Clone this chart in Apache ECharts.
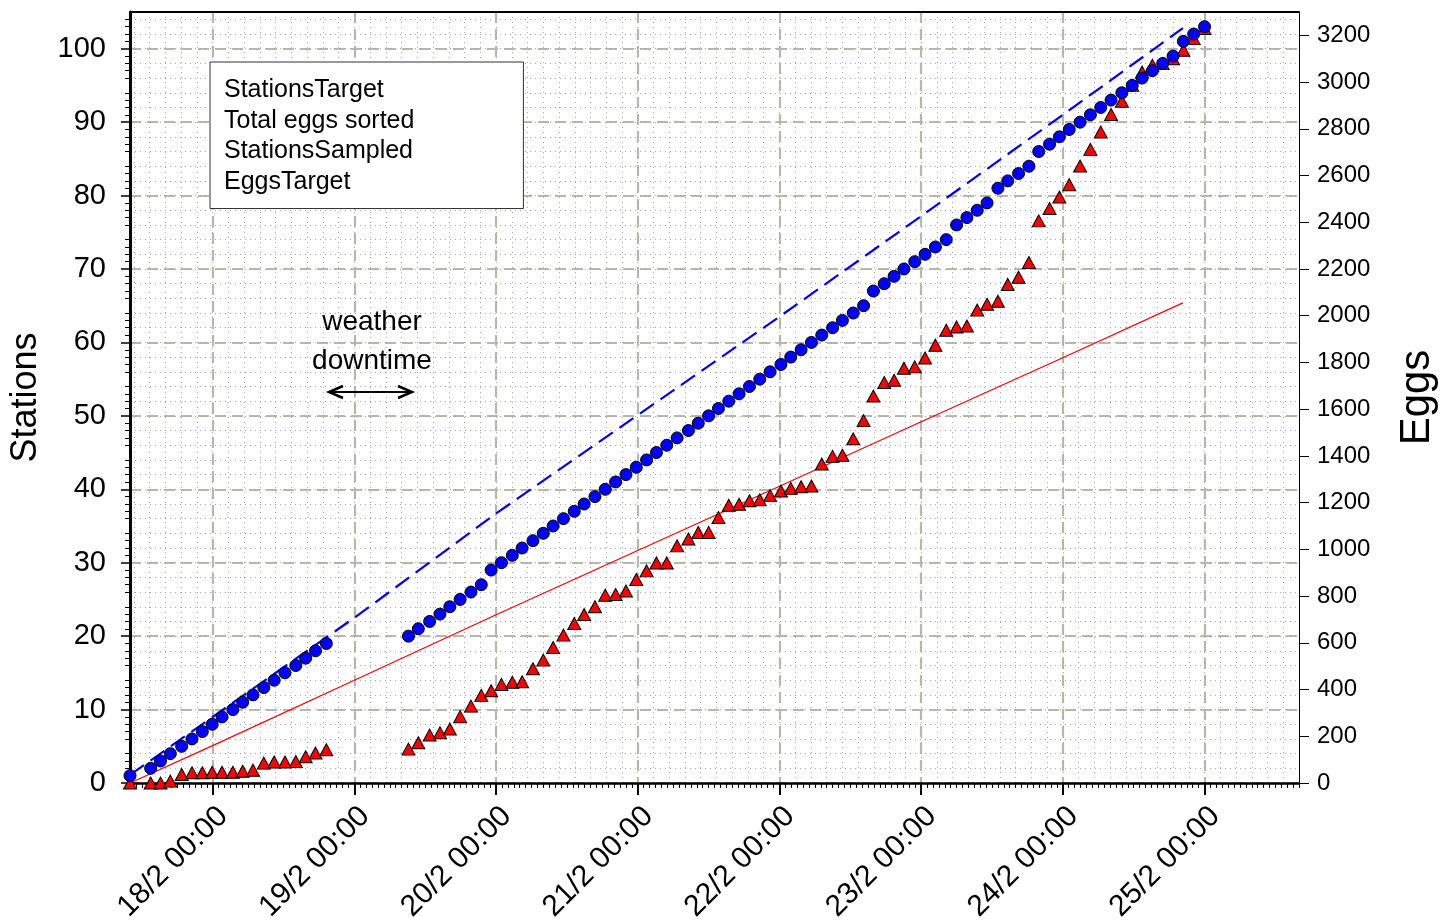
<!DOCTYPE html>
<html>
<head>
<meta charset="utf-8">
<script src="https://cdn.jsdelivr.net/npm/echarts@6/dist/echarts.min.js"></script>
<style>html,body{margin:0;padding:0;background:#fff}#c{width:1441px;height:922px}</style>
</head>
<body>
<div id="c"></div>
<script>
// ---------------- DATA ----------------
const sampleTimes = [
  '17/2 10:00','17/2 13:30','17/2 15:10','17/2 16:50','17/2 18:45','17/2 20:30','17/2 22:15','17/2 23:55',
  '18/2 01:35','18/2 03:25','18/2 05:05','18/2 06:50','18/2 08:40','18/2 10:25','18/2 12:15','18/2 14:05','18/2 15:45','18/2 17:25','18/2 19:15',
  '19/2 09:10','19/2 10:50','19/2 12:45','19/2 14:30','19/2 16:10','19/2 17:55','19/2 19:45','19/2 21:30','19/2 23:10',
  '20/2 00:55','20/2 02:45','20/2 04:25','20/2 06:15','20/2 08:00','20/2 09:40','20/2 11:25','20/2 13:15','20/2 14:55','20/2 16:45','20/2 18:30','20/2 20:15','20/2 22:00','20/2 23:45',
  '21/2 01:30','21/2 03:10','21/2 04:55','21/2 06:40','21/2 08:35','21/2 10:15','21/2 12:00','21/2 13:40','21/2 15:25','21/2 17:10','21/2 18:55','21/2 20:40','21/2 22:25',
  '22/2 00:15','22/2 01:55','22/2 03:40','22/2 05:25','22/2 07:10','22/2 09:00','22/2 10:40','22/2 12:30','22/2 14:15','22/2 15:55','22/2 17:45','22/2 19:25','22/2 21:05','22/2 22:55',
  '23/2 00:40','23/2 02:25','23/2 04:15','23/2 06:00','23/2 07:45','23/2 09:30','23/2 11:10','23/2 13:00','23/2 14:40','23/2 16:30','23/2 18:15','23/2 19:55','23/2 21:45','23/2 23:25',
  '24/2 01:05','24/2 02:55','24/2 04:40','24/2 06:25','24/2 08:10','24/2 10:00','24/2 11:45','24/2 13:25','24/2 15:10','24/2 16:55','24/2 18:40','24/2 20:25','24/2 22:10',
  '25/2 00:00'
];
const stationsSampled = [
  1,2,3,4,5,6,7,8,9,10,11,12,13,14,15,16,17,18,19,
  20,21,22,23,24,25,26,27,29,
  30,31,32,33,34,35,36,37,38,39,40,41,42,43,
  44,45,46,47,48,49,50,51,52,53,54,55,56,
  57,58,59,60,61,62,63,64,65,67,68,69,70,71,
  72,73,74,76,77,78,79,81,82,83,84,86,87,88,
  89,90,91,92,93,94,95,96,97,98,99,101,102,
  103
];
const eggsSorted = [
  0,0,0,8,36,44,44,46,46,46,50,55,85,90,90,92,112,128,142,
  145,172,205,215,231,284,329,375,395,
  422,431,433,489,526,580,633,683,721,754,804,807,822,871,
  908,942,942,1015,1044,1072,1072,1136,1189,1193,1208,1212,1230,
  1250,1261,1268,1271,1365,1398,1403,1473,1551,1656,1714,1724,1775,1781,
  1819,1874,1938,1952,1956,2024,2049,2062,2134,2165,2228,2406,2459,2508,
  2561,2641,2712,2786,2861,2918,2986,3043,3072,3079,3100,3136,3186,
  3229
];
const targetTimes = ['17/2 10:00','18/2 00:00','19/2 00:00','20/2 00:00','21/2 00:00','22/2 00:00','23/2 00:00','24/2 00:00','24/2 20:20'];
const stationsTarget = [1.1, 9.0, 22.5, 36.7, 50.1, 63.5, 77.2, 91.0, 102.8];
const eggsTarget = [0, 160, 440, 720, 995, 1270, 1546, 1820, 2055];

const dayTickTimes = ['18/2 00:00','19/2 00:00','20/2 00:00','21/2 00:00','22/2 00:00','23/2 00:00','24/2 00:00','25/2 00:00'];
const dayTickLabels = ['18/2 00:00','19/2 00:00','20/2 00:00','21/2 00:00','22/2 00:00','23/2 00:00','24/2 00:00','25/2 00:00'];
const stationTicks = [0,10,20,30,40,50,60,70,80,90,100];
const eggTicks = [0,200,400,600,800,1000,1200,1400,1600,1800,2000,2200,2400,2600,2800,3000,3200];
const legendNames = ['StationsTarget','Total eggs sorted','StationsSampled','EggsTarget'];
const axisStart = '17/2 10:00';
const axisEnd = '25/2 16:00';

// ---------------- HELPERS ----------------
// hours since 17/2 00:00
function toH(s) {
  const parts = s.split(' ');
  const day = +parts[0].split('/')[0];
  const hm = parts[1].split(':').map(Number);
  return (day - 17) * 24 + hm[0] + hm[1] / 60;
}
const FONT = '"Liberation Sans", Arial, Helvetica, sans-serif';
const xMin = toH(axisStart), xMax = toH(axisEnd);
const dayTickHours = dayTickTimes.map(toH);
// minor dotted vertical grid: 9 divisions per day
const minorGridHours = [];
for (let k = 0; k * 24 / 9 <= xMax + 1e-6; k++) { const h = k * 24 / 9; if (h >= xMin - 1e-6) minorGridHours.push(h); }

const sampledData = sampleTimes.map((t, i) => [toH(t), stationsSampled[i]]);
const eggsData = sampleTimes.map((t, i) => [toH(t), eggsSorted[i]]);
const stTargetData = targetTimes.map((t, i) => [toH(t), stationsTarget[i]]);
const egTargetData = targetTimes.map((t, i) => [toH(t), eggsTarget[i]]);

const GRIDC = '#b9b9a9';
const DOTC = '#a8a8a8';

const chart = echarts.init(document.getElementById('c'), null, {renderer: 'canvas'});
chart.setOption({
  backgroundColor: '#fff',
  animation: false,
  textStyle: {fontFamily: FONT, color: '#000'},
  grid: {left: 130, right: 142, top: 12, bottom: 139, containLabel: false, outerBoundsMode: 'none'},
  legend: {
    show: true, orient: 'vertical', left: 210, top: 62,
    data: legendNames, icon: 'rect', itemWidth: 0, itemHeight: 0, itemGap: 5.5,
    padding: [16, 109, 14, 8],
    backgroundColor: '#fff', borderColor: '#333', borderWidth: 1, borderRadius: 0,
    selectedMode: false,
    textStyle: {fontSize: 25, color: '#000', fontFamily: FONT}
  },
  xAxis: [
    { // main data axis with day ticks/labels/dashed grid
      type: 'value', position: 'bottom', min: xMin, max: xMax, interval: 2,
      axisLine: {show: true, onZero: false, lineStyle: {color: '#000', width: 2.5}},
      axisTick: {show: true, inside: false, length: 12, customValues: dayTickHours, lineStyle: {color: '#000', width: 2}},
      axisLabel: {
        show: true, customValues: dayTickHours, rotate: 45, margin: 18, fontSize: 30, color: '#000', fontFamily: FONT,
        verticalAlign: 'top',
        formatter: function (v) { const i = dayTickHours.findIndex(h => Math.abs(h - v) < 1e-6); return i >= 0 ? dayTickLabels[i] : ''; }
      },
      splitLine: {show: true, lineStyle: {color: GRIDC, width: 2.2, type: [11, 6]}},
      minorTick: {show: false}, minorSplitLine: {show: false}
    },
    { // hourly small ticks
      type: 'value', position: 'bottom', min: xMin, max: xMax, interval: 1,
      axisLine: {show: false}, axisLabel: {show: false}, splitLine: {show: false},
      axisTick: {show: true, length: 5, lineStyle: {color: '#000', width: 1}}
    },
    { // dotted minor vertical grid
      type: 'value', position: 'bottom', min: xMin, max: xMax, interval: 2,
      axisLine: {show: false}, axisLabel: {show: false},
      axisTick: {show: false, customValues: minorGridHours},
      splitLine: {show: true, lineStyle: {color: DOTC, width: 1, type: [1, 4]}}
    },
    { // top frame line
      type: 'value', position: 'top', min: xMin, max: xMax,
      axisLine: {show: true, onZero: false, lineStyle: {color: '#000', width: 2}},
      axisTick: {show: false}, axisLabel: {show: false}, splitLine: {show: false}
    }
  ],
  yAxis: [
    {
      type: 'value', position: 'left', min: 0, max: 105, interval: 5,
      name: 'Stations', nameLocation: 'middle', nameGap: 86, nameRotate: 90,
      nameTextStyle: {fontSize: 36, color: '#000', fontFamily: FONT},
      axisLine: {show: true, onZero: false, lineStyle: {color: '#000', width: 3}},
      axisTick: {show: true, length: 9, customValues: stationTicks, lineStyle: {color: '#000', width: 1.5}},
      minorTick: {show: true, splitNumber: 5, length: 5, lineStyle: {color: '#000', width: 1}},
      axisLabel: {customValues: stationTicks, fontSize: 29, color: '#000', margin: 24, fontFamily: FONT},
      splitLine: {show: true, lineStyle: {color: GRIDC, width: 2.2, type: [11, 6]}}
    },
    {
      type: 'value', position: 'right', min: 0, max: 3300, interval: 100,
      name: 'Eggs', nameLocation: 'middle', nameGap: 97, nameRotate: 90,
      nameTextStyle: {fontSize: 42, color: '#000', fontFamily: FONT},
      axisLine: {show: true, onZero: false, lineStyle: {color: '#000', width: 1}},
      axisTick: {show: true, length: 10, customValues: eggTicks, lineStyle: {color: '#000', width: 1}},
      axisLabel: {customValues: eggTicks, fontSize: 24, color: '#000', margin: 18, fontFamily: FONT,
        formatter: function (v) { return String(Math.round(v)); }},
      splitLine: {show: false}
    },
    { // dotted minor horizontal grid
      type: 'value', position: 'left', min: 0, max: 105, interval: 2,
      axisLine: {show: false}, axisTick: {show: false}, axisLabel: {show: false},
      splitLine: {show: true, lineStyle: {color: DOTC, width: 1, type: [1, 4]}}
    }
  ],
  series: [
    {
      name: 'StationsTarget', type: 'line', xAxisIndex: 0, yAxisIndex: 0, data: stTargetData,
      symbol: 'none', z: 3, lineStyle: {color: '#0000ff', width: 2.2, type: [17, 8]}, itemStyle: {color: '#0000ff'}
    },
    {
      name: 'Total eggs sorted', type: 'scatter', xAxisIndex: 0, yAxisIndex: 1, data: eggsData, clip: false,
      symbol: 'triangle', symbolSize: [13, 12], z: 4,
      itemStyle: {color: '#ff0000', borderColor: '#000', borderWidth: 1, opacity: 1}
    },
    {
      name: 'StationsSampled', type: 'scatter', xAxisIndex: 0, yAxisIndex: 0, data: sampledData, clip: false,
      symbol: 'circle', symbolSize: 12, z: 5,
      itemStyle: {color: '#0000ff', borderColor: '#000', borderWidth: 1, opacity: 1}
    },
    {
      name: 'EggsTarget', type: 'line', xAxisIndex: 0, yAxisIndex: 1, data: egTargetData,
      symbol: 'none', z: 3, lineStyle: {color: '#ff0000', width: 1.2}, itemStyle: {color: '#ff0000'}
    }
  ],
  graphic: [
    {type: 'text', x: 372, y: 322, z: 10, style: {text: 'weather', font: '28px ' + FONT, fill: '#000', align: 'center', verticalAlign: 'middle'}},
    {type: 'text', x: 372, y: 361, z: 10, style: {text: 'downtime', font: '28px ' + FONT, fill: '#000', align: 'center', verticalAlign: 'middle'}},
    {type: 'polyline', z: 10, shape: {points: [[329, 392], [412, 392]]}, style: {stroke: '#000', lineWidth: 2}},
    {type: 'polyline', z: 10, shape: {points: [[343, 386], [329, 392], [343, 398]]}, style: {stroke: '#000', lineWidth: 2.5, fill: null}},
    {type: 'polyline', z: 10, shape: {points: [[398, 386], [412, 392], [398, 398]]}, style: {stroke: '#000', lineWidth: 2.5, fill: null}}
  ]
});
</script>
</body>
</html>
